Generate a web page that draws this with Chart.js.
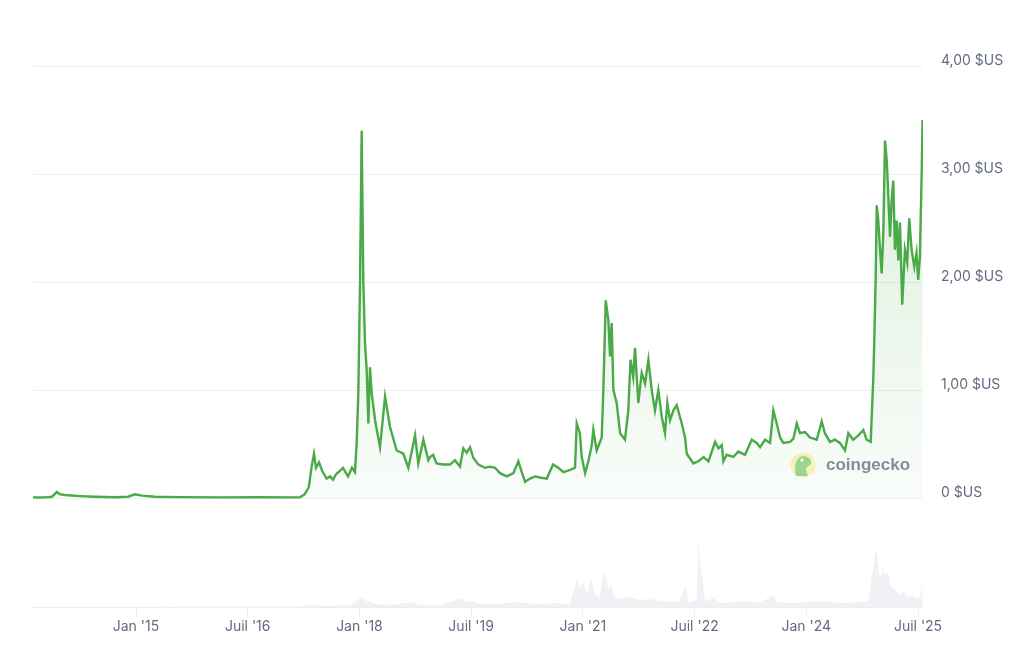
<!DOCTYPE html>
<html>
<head>
<meta charset="utf-8">
<script src="https://cdn.jsdelivr.net/npm/chart.js@4.4.1/dist/chart.umd.min.js"></script>
<style>
html,body{margin:0;padding:0;background:#fff;}
#wrap{width:1024px;height:653px;position:relative;}
</style>
</head>
<body>
<div id="wrap"><canvas id="c" width="1024" height="653"></canvas></div>
<script>
// Price series (decimal year, USD)
const priceDates = [2013.617,2013.70,2013.778,2013.872,2013.935,2013.98,2014.087,2014.248,2014.45,2014.72,2014.89,2014.987,2015.08,2015.255,2015.59,2016.13,2016.665,2017.068,2017.2,2017.256,2017.28,2017.32,2017.36,2017.39,2017.417,2017.457,2017.5,2017.56,2017.605,2017.645,2017.686,2017.78,2017.847,2017.9,2017.94,2017.963,2017.985,2018.008,2018.03,2018.052,2018.075,2018.098,2018.12,2018.142,2018.165,2018.21,2018.276,2018.344,2018.41,2018.5,2018.59,2018.657,2018.747,2018.79,2018.858,2018.925,2018.948,2018.99,2019.035,2019.125,2019.216,2019.283,2019.35,2019.395,2019.44,2019.485,2019.53,2019.597,2019.686,2019.753,2019.82,2019.888,2019.978,2020.067,2020.134,2020.18,2020.224,2020.29,2020.358,2020.425,2020.515,2020.6,2020.67,2020.74,2020.828,2020.895,2020.918,2020.96,2020.985,2021.03,2021.074,2021.12,2021.14,2021.186,2021.253,2021.275,2021.307,2021.342,2021.365,2021.387,2021.41,2021.454,2021.5,2021.565,2021.61,2021.64,2021.676,2021.7,2021.745,2021.79,2021.835,2021.88,2021.924,2021.968,2022.013,2022.06,2022.103,2022.134,2022.17,2022.215,2022.26,2022.328,2022.372,2022.395,2022.484,2022.55,2022.62,2022.686,2022.776,2022.82,2022.865,2022.887,2022.93,2023.02,2023.087,2023.177,2023.267,2023.335,2023.38,2023.446,2023.513,2023.558,2023.603,2023.648,2023.692,2023.782,2023.827,2023.872,2023.916,2023.983,2024.05,2024.14,2024.207,2024.25,2024.318,2024.385,2024.452,2024.52,2024.564,2024.63,2024.7,2024.766,2024.81,2024.865,2024.9,2024.913,2024.932,2024.946,2024.967,2024.99,2025.012,2025.034,2025.057,2025.08,2025.1,2025.124,2025.146,2025.168,2025.19,2025.213,2025.235,2025.258,2025.288,2025.324,2025.355,2025.382,2025.414,2025.45,2025.48,2025.502,2025.525,2025.548,2025.561];
const prices = [0.006,0.005,0.006,0.012,0.055,0.035,0.025,0.018,0.012,0.007,0.012,0.034,0.022,0.012,0.008,0.006,0.007,0.006,0.007,0.03,0.05,0.1,0.3,0.41,0.28,0.33,0.25,0.18,0.2,0.17,0.22,0.28,0.2,0.28,0.24,0.51,0.97,2.0,3.4,2.0,1.43,1.18,0.69,1.21,0.97,0.72,0.47,0.94,0.66,0.44,0.41,0.28,0.58,0.32,0.54,0.35,0.38,0.40,0.32,0.31,0.31,0.35,0.29,0.46,0.42,0.47,0.37,0.31,0.28,0.29,0.28,0.23,0.2,0.23,0.34,0.24,0.15,0.18,0.2,0.19,0.18,0.31,0.28,0.24,0.26,0.28,0.69,0.6,0.38,0.23,0.34,0.49,0.63,0.44,0.56,1.0,1.83,1.65,1.31,1.62,1.0,0.88,0.6,0.54,0.81,1.28,1.12,1.39,0.88,1.16,1.06,1.28,1.0,0.81,1.0,0.75,0.6,0.88,0.72,0.81,0.86,0.69,0.56,0.41,0.32,0.34,0.38,0.34,0.52,0.46,0.49,0.34,0.4,0.38,0.43,0.4,0.54,0.51,0.47,0.54,0.51,0.81,0.69,0.56,0.51,0.52,0.55,0.69,0.6,0.61,0.56,0.54,0.71,0.6,0.52,0.54,0.51,0.44,0.6,0.54,0.58,0.63,0.54,0.52,1.12,1.46,2.05,2.71,2.57,2.3,2.08,2.45,3.31,3.13,2.82,2.42,2.76,2.94,2.3,2.57,2.2,2.55,1.79,2.3,2.18,2.59,2.3,2.14,2.27,2.02,2.23,2.97,3.5];

// Volume series (decimal year, billions USD)
const volumeDates = [2013.617,2017.2,2017.36,2017.605,2017.874,2017.967,2018.008,2018.03,2018.06,2018.1,2018.14,2018.21,2018.41,2018.747,2018.79,2019.08,2019.378,2019.43,2019.525,2019.62,2019.888,2020.134,2020.224,2020.425,2020.626,2020.694,2020.828,2020.895,2020.92,2020.96,2021.0,2021.056,2021.11,2021.16,2021.23,2021.27,2021.3,2021.34,2021.38,2021.42,2021.5,2021.63,2021.77,2021.9,2022.04,2022.17,2022.3,2022.385,2022.42,2022.53,2022.55,2022.57,2022.6,2022.64,2022.75,2022.84,2023.04,2023.24,2023.38,2023.558,2023.6,2023.78,2024.05,2024.21,2024.45,2024.72,2024.83,2024.88,2024.91,2024.94,2024.97,2024.99,2025.03,2025.057,2025.1,2025.14,2025.19,2025.258,2025.3,2025.36,2025.42,2025.47,2025.525,2025.561];
const volumes = [0.1,0.25,1,0.5,1,3,5,3.5,4.5,2.5,3,1.5,1,2.5,1,0.75,4.5,2.5,3,1.5,1.5,2.5,2,1.5,2,1.5,1.5,10,14,9,12,7,14,6,5,16,16.5,9,11,5,4,5,3.5,4,3,2.5,3,11,2,4,34.5,22,15,3,4.5,2,2.5,3,2,6,2.5,2,2.5,3,2,2.5,3,15,22.5,29.5,17.5,14,18.5,16,17.5,10,8.5,6,8.5,5,6,4,5,11];

// Axis ticks
const xTickValues = [2015.0,2016.5,2018.0,2019.5,2021.0,2022.5,2024.0,2025.5];
const xTickLabels = ["Jan '15","Juil '16","Jan '18","Juil '19","Jan '21","Juil '22","Jan '24","Juil '25"];
const yTickValues = [0,1,2,3,4];

const GREEN = '#4aa948';
const TXT = '#626b80';
const GRID = '#eceef2';

const pricePts = priceDates.map((d,i)=>({x:d,y:prices[i]}));
const volPts = volumeDates.map((d,i)=>({x:d,y:volumes[i]}));

const watermark = {
  id:'watermark',
  afterDatasetsDraw(chart){
    const ctx = chart.ctx;
    ctx.save();
    ctx.beginPath();
    ctx.arc(803,465,12.5,0,Math.PI*2);
    ctx.fillStyle='#f6f1b8';
    ctx.fill();
    ctx.beginPath();
    ctx.moveTo(796,476);
    ctx.bezierCurveTo(794,468,795,457,803,456);
    ctx.bezierCurveTo(809,456,812,460,811,464);
    ctx.bezierCurveTo(809,466,806,467,806,470);
    ctx.lineTo(808,476);
    ctx.closePath();
    ctx.fillStyle='#9fd48f';
    ctx.fill();
    ctx.beginPath();
    ctx.arc(802,460,1.6,0,Math.PI*2);
    ctx.fillStyle='#ffffff';
    ctx.fill();
    ctx.font='bold 17px "Liberation Sans", Arial, sans-serif';
    ctx.fillStyle='#848b99';
    ctx.textBaseline='middle';
    ctx.textAlign='left';
    ctx.fillText('coingecko',826,465);
    ctx.restore();
  }
};

const ctx = document.getElementById('c').getContext('2d');
const grad = ctx.createLinearGradient(0,66,0,498);
grad.addColorStop(0,'rgba(76,170,74,0.22)');
grad.addColorStop(1,'rgba(76,170,74,0.03)');

new Chart(ctx,{
  type:'line',
  data:{
    datasets:[
      {
        label:'Prix',
        data:pricePts,
        yAxisID:'y',
        borderColor:GREEN,
        borderWidth:2.4,
        pointRadius:0,
        tension:0,
        fill:{value:0},
        backgroundColor:grad,
        order:1
      },
      {
        label:'Volume',
        data:volPts,
        yAxisID:'yv',
        borderWidth:0,
        borderColor:'rgba(0,0,0,0)',
        pointRadius:0,
        tension:0,
        fill:'origin',
        backgroundColor:'rgba(236,238,242,0.8)',
        order:2
      }
    ]
  },
  options:{
    responsive:false,
    animation:false,
    devicePixelRatio:1,
    layout:{padding:{left:33,top:66,right:0,bottom:0}},
    plugins:{legend:{display:false},tooltip:{enabled:false}},
    scales:{
      x:{
        type:'linear',
        min:2013.617,
        max:2025.567,
        afterBuildTicks(s){ s.ticks = xTickValues.map(v=>({value:v})); },
        afterFit(s){ s.height = 46; },
        ticks:{
          autoSkip:false,maxRotation:0,padding:1,
          color:TXT,font:{family:'Inter',size:14},
          callback(v){ const i = xTickValues.indexOf(v); return i>=0 ? xTickLabels[i] : ''; }
        },
        grid:{drawOnChartArea:false,drawTicks:true,tickLength:10,color:GRID},
        border:{display:true,color:GRID}
      },
      y:{
        position:'right',
        min:-1.009,
        max:4,
        afterBuildTicks(s){ s.ticks = yTickValues.map(v=>({value:v})); },
        afterFit(s){ s.width = 101; },
        ticks:{
          padding:18,labelOffset:-5,
          color:TXT,font:{family:'Inter',size:14},
          callback(v){ return v===0 ? '0 $US' : v.toFixed(2).replace('.',',')+' $US'; }
        },
        grid:{drawTicks:false,color:GRID},
        border:{display:false}
      },
      yv:{
        display:false,
        min:0,
        max:270.5
      }
    }
  },
  plugins:[watermark]
});
</script>
</body>
</html>
